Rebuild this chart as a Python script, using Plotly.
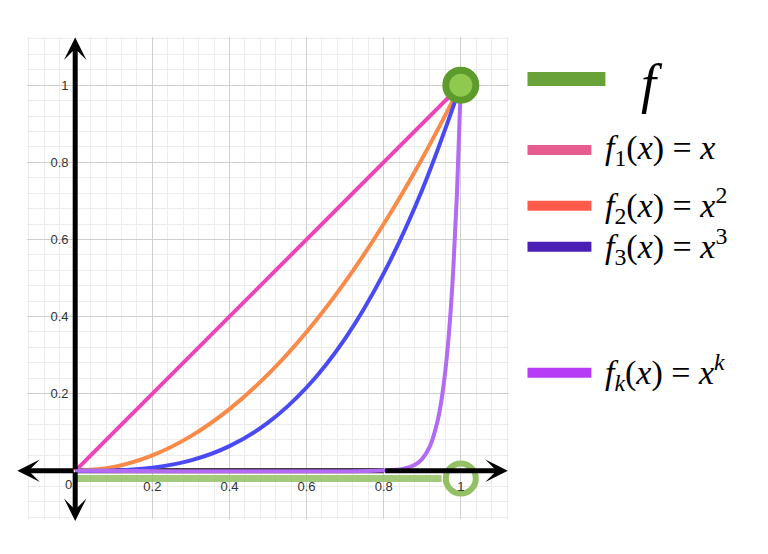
import plotly.graph_objects as go

# valeurs
x_lin = [0, 1]
y_lin = [0, 1]

x_std = [0, 0.1, 0.2, 0.3, 0.4, 0.5, 0.6, 0.7, 0.8, 0.9, 1.0]
y_sq = [0, 0.01, 0.04, 0.09, 0.16, 0.25, 0.36, 0.49, 0.64, 0.81, 1.0]
y_cube = [0, 0.001, 0.008, 0.027, 0.064, 0.125, 0.216, 0.343, 0.512, 0.729, 1.0]

x_k = [0, 0.8, 0.85, 0.88, 0.9, 0.92, 0.94, 0.95, 0.96, 0.97, 0.98, 0.99, 1.0]
y_k = [0, 0.001, 0.005, 0.015, 0.031, 0.064, 0.13, 0.184, 0.26, 0.366, 0.513, 0.718, 1.0]

# trait vert (f) sous l'axe et ses cercles
x_f = [0, 0.95]
y_f = [-0.02, -0.02]

ticks = [0.2, 0.4, 0.6, 0.8, 1]
tick_text = ["0.2", "0.4", "0.6", "0.8", "1"]

legende = [
    "<i>f</i><sub>1</sub>(<i>x</i>) = <i>x</i>",
    "<i>f</i><sub>2</sub>(<i>x</i>) = <i>x</i><sup>2</sup>",
    "<i>f</i><sub>3</sub>(<i>x</i>) = <i>x</i><sup>3</sup>",
    "<i>f</i><sub><i>k</i></sub>(<i>x</i>) = <i>x</i><sup><i>k</i></sup>",
]
couleurs_legende = ["#e65c8f", "#ff5a4a", "#4b1fb5", "#b73cf5"]
y_legende_px = [150, 206, 247, 373]

RANGE = [-0.125, 1.125]
OFF = 8  # marge du <body> de la page
L, T, W, H = 27, 37, 482.5, 482.5
SERIF = "Liberation Serif, Times New Roman, serif"
SANS = "Liberation Sans, Arial, sans-serif"


def paper_x(px):
    return (px - L) / W


def paper_y(py):
    return (T + H - py) / H


fig = go.Figure()

fig.add_trace(go.Scatter(x=x_f, y=y_f, mode="lines",
                         line=dict(color="#93c064", width=7), opacity=0.85))
fig.add_trace(go.Scatter(x=[1], y=[-0.02], mode="markers",
                         marker=dict(symbol="circle-open", size=30, color="#93c064",
                                     line=dict(color="#93c064", width=6))))
fig.add_trace(go.Scatter(x=x_lin, y=y_lin, mode="lines",
                         line=dict(color="#ee44b5", width=4)))
fig.add_trace(go.Scatter(x=x_std, y=y_sq, mode="lines", line_shape="spline",
                         line=dict(color="#fa8a48", width=4)))
fig.add_trace(go.Scatter(x=x_std, y=y_cube, mode="lines", line_shape="spline",
                         line=dict(color="#4a4af5", width=4)))
fig.add_trace(go.Scatter(x=x_k, y=y_k, mode="lines", line_shape="spline",
                         line=dict(color="#b36af5", width=4)))
fig.add_trace(go.Scatter(x=[1], y=[1], mode="markers",
                         marker=dict(size=30, color="#8fc94e",
                                     line=dict(color="#5e9b2d", width=7))))

axe = dict(range=RANGE, showgrid=True, gridcolor="#cfcfcf", gridwidth=1,
           zeroline=False, showline=False, tickvals=ticks, ticktext=tick_text,
           ticks="outside", ticklen=4, tickcolor="rgba(0,0,0,0)",
           tickfont=dict(family=SANS, size=13, color="#333"),
           minor=dict(dtick=0.04, tick0=0, showgrid=True, gridcolor="#ececec"),
           anchor="free", position=0.1, fixedrange=True, automargin=False)

fig.update_layout(
    width=768, height=554,
    margin=dict(l=L - OFF, r=768 - L - W + OFF, t=T - OFF, b=554 - T - H + OFF,
                autoexpand=False),
    plot_bgcolor="white", paper_bgcolor="white",
    showlegend=False,
    xaxis=dict(axe),
    yaxis=dict(axe),
)

# axes noirs avec flèches
fig.add_shape(type="line", x0=0, y0=0, x1=0.8, y1=0, layer="between",
              line=dict(color="black", width=5))
for (tx, ty, ax_, ay_) in [(1.122, 0, 0.8, 0), (-0.15, 0, 0, 0),
                           (0, 1.124, 0, 0), (0, -0.13, 0, 0)]:
    fig.add_annotation(x=tx, y=ty, ax=ax_, ay=ay_, xref="x", yref="y",
                       axref="x", ayref="y", text="", showarrow=True,
                       arrowhead=3, arrowwidth=5, arrowsize=0.75,
                       arrowcolor="black")

fig.add_annotation(x=paper_x(63), y=paper_y(485), xref="paper", yref="paper",
                   text="0", showarrow=False, yanchor="middle",
                   font=dict(family=SANS, size=13, color="#333"))

# légende dessinée à la main
fig.add_shape(type="rect", xref="paper", yref="paper",
              x0=paper_x(528), x1=paper_x(606), y0=paper_y(72), y1=paper_y(86),
              fillcolor="#6aa23a", line=dict(width=0))
fig.add_annotation(x=paper_x(640), y=paper_y(84), xref="paper", yref="paper",
                   text="<i>f</i>", showarrow=False, xanchor="left", yanchor="middle",
                   font=dict(family=SERIF, size=54, color="black"))

for txt, col, ypx in zip(legende, couleurs_legende, y_legende_px):
    fig.add_shape(type="rect", xref="paper", yref="paper",
                  x0=paper_x(528), x1=paper_x(592),
                  y0=paper_y(ypx - 5), y1=paper_y(ypx + 5),
                  fillcolor=col, line=dict(width=0))
    fig.add_annotation(x=paper_x(604), y=paper_y(ypx), xref="paper", yref="paper",
                       text=txt, showarrow=False, xanchor="left", yanchor="middle",
                       font=dict(family=SERIF, size=34, color="black"))

fig.write_html("out.html")
